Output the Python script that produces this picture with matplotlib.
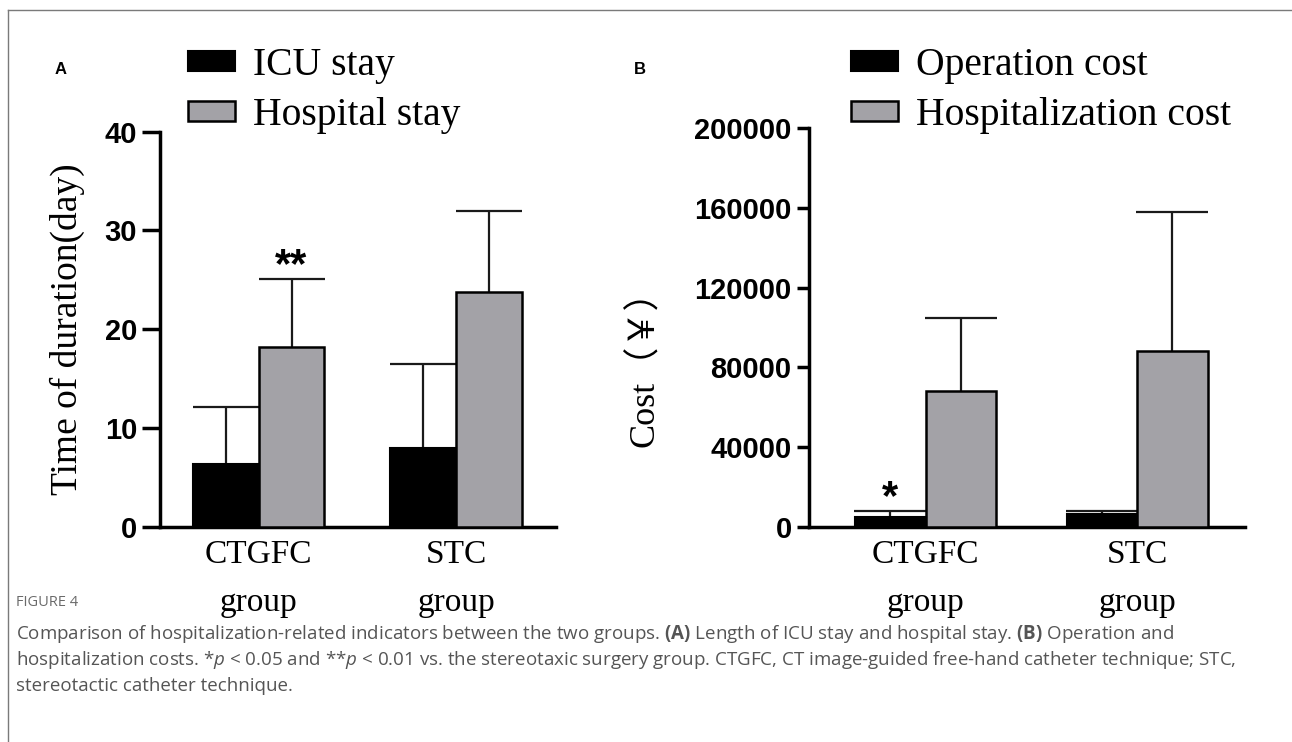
import matplotlib
matplotlib.use("Agg")
import matplotlib.pyplot as plt
from matplotlib.lines import Line2D
import numpy as np

# ---------------- data ----------------
groups = ["CTGFC\ngroup", "STC\ngroup"]

icu_mean = [6.3, 8.0]
icu_sd = [5.8, 8.5]
hosp_stay_mean = [18.2, 23.8]
hosp_stay_sd = [6.9, 8.2]

op_cost_mean = [5000, 6400]
op_cost_sd = [2700, 1350]
hosp_cost_mean = [68300, 88200]
hosp_cost_sd = [36400, 69800]

yticks_A = [0, 10, 20, 30, 40]
yticks_B = [0, 40000, 80000, 120000, 160000, 200000]

legend_A = ["ICU stay", "Hospital stay"]
legend_B = ["Operation cost", "Hospitalization cost"]

# ---------------- style ----------------
W, H = 1292, 742
GRAY = "#a3a2a7"
SERIF = ["Liberation Serif", "Noto Sans CJK SC", "DejaVu Sans"]
plt.rcParams["mathtext.fontset"] = "custom"
plt.rcParams["mathtext.rm"] = "Open Sans"
plt.rcParams["mathtext.it"] = "Open Sans:italic"
plt.rcParams["mathtext.bf"] = "Open Sans:bold"

fig = plt.figure(figsize=(W / 100, H / 100), dpi=100)
fig.patch.set_facecolor("white")


def px_axes(l, t, r, b):
    return fig.add_axes([l / W, 1 - b / H, (r - l) / W, (b - t) / H])


def draw_panel(ax, m1, s1, m2, s2, xlim, ylim, yticks, ticklen, capsize):
    x = np.arange(len(groups)) * 3.0
    b1 = ax.bar(x - 0.5, m1, width=1.0, color="black", edgecolor="black",
                linewidth=1.5, zorder=3)
    b2 = ax.bar(x + 0.5, m2, width=1.0, color=GRAY, edgecolor="black",
                linewidth=1.8, zorder=3)
    for xs, m, s in ((x - 0.5, m1, s1), (x + 0.5, m2, s2)):
        eb = ax.errorbar(xs, m, yerr=[np.zeros(len(s)), s], fmt="none",
                         ecolor="#1a1a1a", elinewidth=1.6, capsize=capsize,
                         capthick=1.6, zorder=2)
        eb[1][0].set_visible(False)
    ax.set_xlim(*xlim)
    ax.set_ylim(*ylim)
    ax.set_yticks(yticks)
    ax.set_yticklabels([str(t) for t in yticks], fontfamily="Liberation Sans",
                       fontweight="bold", fontsize=21)
    ax.set_xticks(x)
    ax.set_xticklabels(groups, fontfamily=SERIF, fontsize=24, linespacing=1.75)
    ax.tick_params(axis="y", length=ticklen, width=2.5, pad=3.5)
    ax.tick_params(axis="x", length=0, pad=9)
    for sp in ("top", "right"):
        ax.spines[sp].set_visible(False)
    for sp in ("left", "bottom"):
        ax.spines[sp].set_linewidth(2.5)
    return b1, b2, x


LEG = dict(loc="upper left", bbox_transform=fig.transFigure, frameon=False,
           prop={"family": SERIF, "size": 28.5}, handlelength=1.2,
           handleheight=0.38, handletextpad=0.45, labelspacing=0.33,
           borderpad=0, borderaxespad=0)

# ---------------- panel A ----------------
axA = px_axes(160, 131.7, 556, 526.7)
a1, a2, xA = draw_panel(axA, icu_mean, icu_sd, hosp_stay_mean, hosp_stay_sd,
                        (-1.5, 4.52), (0, 40), yticks_A, 13, 24)
axA.set_ylabel("Time of duration(day)", fontfamily=SERIF, fontsize=27)
axA.yaxis.set_label_coords(-0.235, 0.5)
axA.yaxis.label.set_va("center")
axA.text(xA[0] + 0.5, hosp_stay_mean[0] + hosp_stay_sd[0] - 0.7, "**",
         ha="center", va="bottom", fontfamily="Liberation Sans",
         fontweight="bold", fontsize=30)
axA.legend([a1, a2], legend_A, bbox_to_anchor=(188 / W, 1 - 47 / H), **LEG)

# ---------------- panel B ----------------
axB = px_axes(809, 128.3, 1245, 526.7)
b1, b2, xB = draw_panel(axB, op_cost_mean, op_cost_sd, hosp_cost_mean,
                        hosp_cost_sd, (-1.655, 4.53), (0, 200000), yticks_B,
                        9, 26)
axB.set_ylabel("Cost（￥）", fontfamily=SERIF, fontsize=26)
axB.yaxis.set_label_coords(-0.376, 0.42)
axB.yaxis.label.set_va("center")
axB.text(xB[0] - 0.5, op_cost_mean[0] + op_cost_sd[0] - 3500, "*",
         ha="center", va="bottom", fontfamily="Liberation Sans",
         fontweight="bold", fontsize=30)
axB.legend([b1, b2], legend_B, bbox_to_anchor=(851 / W, 1 - 47 / H), **LEG)

# panel letters
fig.text(55 / W, 1 - 70 / H, "A", fontfamily="Liberation Sans",
         fontweight="bold", fontsize=12, ha="left", va="center")
fig.text(634 / W, 1 - 70 / H, "B", fontfamily="Liberation Sans",
         fontweight="bold", fontsize=12, ha="left", va="center")

# ---------------- caption ----------------
cap_color = "#555555"
fig.text(16 / W, 1 - 603 / H, "FIGURE 4", fontfamily="Open Sans",
         fontsize=10.5, color="#6a6a6a", ha="left", va="center")
cap_lines = [
    "Comparison of hospitalization-related indicators between the two groups. "
    r"$\mathbf{(A)}$ Length of ICU stay and hospital stay. $\mathbf{(B)}$ Operation and",
    r"hospitalization costs. *$\it{p}$ < 0.05 and **$\it{p}$ < 0.01 vs. the stereotaxic "
    "surgery group. CTGFC, CT image-guided free-hand catheter technique; STC,",
    "stereotactic catheter technique.",
]
for i, line in enumerate(cap_lines):
    fig.text(16 / W, 1 - (634 + 26 * i) / H, line, fontfamily="Open Sans",
             fontsize=13.5, color=cap_color, ha="left", va="center")

# frame lines
fig.add_artist(Line2D([8 / W, 8 / W], [0, 1 - 10 / H], transform=fig.transFigure,
                      color="#7a7a7a", lw=1))
fig.add_artist(Line2D([8 / W, 1], [1 - 10 / H, 1 - 10 / H],
                      transform=fig.transFigure, color="#7a7a7a", lw=1))

fig.savefig("out.png", dpi=100, facecolor="white")
